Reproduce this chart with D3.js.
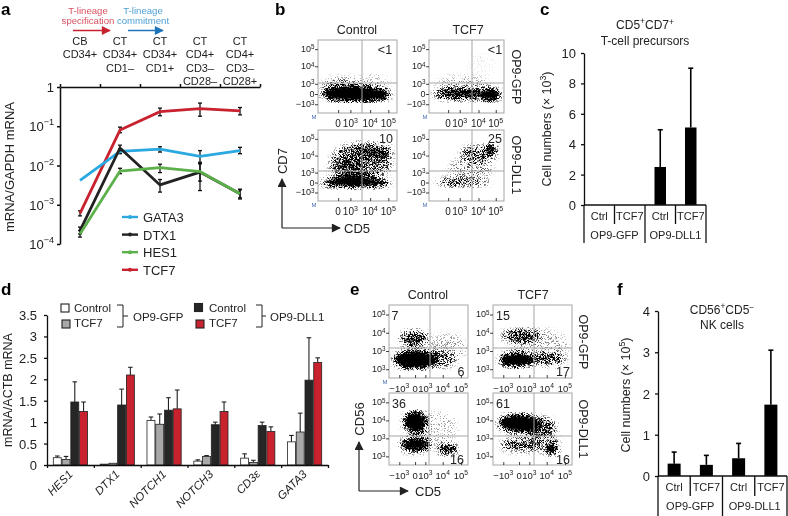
<!DOCTYPE html>
<html><head><meta charset="utf-8">
<script src="https://cdn.jsdelivr.net/npm/d3@7"></script>
<style>
html,body{margin:0;padding:0;background:#fff}
svg{display:block}
text{font-family:"Liberation Sans",Arial,sans-serif;fill:#222}
</style></head><body>
<svg id="c" width="788" height="516" viewBox="0 0 788 516"></svg>
<script>
// ---------- panel a ----------
const stages=[["CB","CD34+"],["CT","CD34+","CD1–"],["CT","CD34+","CD1+"],["CT","CD4+","CD3–","CD28–"],["CT","CD4+","CD3–","CD28+"]];
const seriesA=["TCF7","GATA3","DTX1","HES1"];
const tcf7=[6e-4,0.08,0.235,0.28,0.245];
const tcf7Lo=[5.2e-4,0.068,0.185,0.18,0.195];
const tcf7Hi=[7e-4,0.095,0.29,0.39,0.3];
const gata3=[4.2e-3,0.023,0.026,0.017,0.024];
const gata3Lo=[4.2e-3,0.02,0.022,0.012,0.02];
const gata3Hi=[4.2e-3,0.026,0.03,0.024,0.029];
const dtx1=[2.2e-4,0.028,0.0032,0.0068,0.0019];
const dtx1Lo=[1.8e-4,0.024,0.0021,0.0023,0.0015];
const dtx1Hi=[2.7e-4,0.033,0.0044,0.011,0.0024];
const hes1=[1.8e-4,0.0072,0.0088,0.007,0.0019];
const hes1Lo=[1.5e-4,0.0062,0.0066,0.004,0.0014];
const hes1Hi=[2.2e-4,0.0085,0.0108,0.0115,0.0025];
const legendA=["GATA3","DTX1","HES1","TCF7"];
// ---------- bars c, f ----------
const cellCats=["Ctrl","TCF7","Ctrl","TCF7"];
const cellGroups=["OP9-GFP","OP9-DLL1"];
const cValues=[0,0,2.5,5.1];
const cErrTop=[0,0,4.95,9.0];
const fValues=[0.3,0.27,0.43,1.73];
const fErrTop=[0.58,0.5,0.79,3.05];
// ---------- panel d ----------
const genes=["HES1","DTX1","NOTCH1","NOTCH3","CD3ε","GATA3"];
const dConds=["gfpControl","gfpTCF7","dllControl","dllTCF7"];
const gfpControl=[.17,.02,1.04,.09,.16,.54];
const gfpControlTop=[.21,.02,1.12,.12,.26,.69];
const gfpTCF7=[.13,.04,.95,.2,.06,.77];
const gfpTCF7Top=[.2,.04,1.19,.22,.11,1.21];
const dllControl=[1.47,1.4,1.28,.94,.92,1.98];
const dllControlTop=[1.94,1.77,1.57,1.0,1.0,2.97];
const dllTCF7=[1.25,2.1,1.31,1.25,.78,2.39];
const dllTCF7Top=[1.47,2.28,1.75,1.47,.89,2.5];
// ---------- flow panels: cell clouds [cx,cy,rx,ry,density], in % of the plot frame ----------
const bTicksX=[["0",.255],["10^3",.41],["10^4",.66],["10^5",.89]];
const bTicksY=[["10^5",.125],["10^4",.36],["10^3",.60],["0",.74],["−10^3",.88]];
const eTicksX=[["−10^3",.13],["0",.33],["10^3",.46],["10^4",.68],["10^5",.91]];
const eTicksY=[["10^5",.13],["10^4",.38],["10^3",.63],["10^3",.88]];
const bCtrlGfp=[[48,74,44,10,1],[30,63,24,12,.3],[70,60,20,14,.1]];
const bTcfGfp=[[50,74,44,7,.8],[82,75,13,8,1],[45,62,36,12,.16],[70,35,18,18,.03]];
const bCtrlDll=[[48,74,44,6,1],[35,73,22,7,1],[55,44,38,26,.42],[72,30,22,10,.5],[38,52,24,14,.3]];
const bTcfDll=[[45,74,38,4,.5],[30,73,12,3,.9],[83,27,7,6,1],[66,34,24,12,.42],[55,55,30,15,.2]];
const eCtrlGfp=[[33,75,27,12,1],[32,46,18,11,.6],[60,75,26,11,.35],[75,58,24,20,.14]];
const eTcfGfp=[[30,75,22,9,1],[36,42,24,9,.55],[70,74,22,8,.5],[60,55,36,22,.15]];
const eCtrlDll=[[33,40,14,14,1],[33,72,19,9,.92],[74,78,12,7,.78],[60,48,26,22,.12],[38,56,12,10,.2]];
const eTcfDll=[[33,42,26,12,1],[58,47,22,13,.5],[36,72,26,9,.5],[74,78,8,7,1],[66,66,20,14,.25]];

const svg=d3.select("#c");
const defs=svg.append("defs");
const flt=defs.append("filter").attr("id","speckle").attr("x","-5%").attr("y","-5%").attr("width","110%").attr("height","110%").attr("color-interpolation-filters","sRGB");
flt.append("feGaussianBlur").attr("in","SourceAlpha").attr("stdDeviation",3).attr("result","soft");
flt.append("feTurbulence").attr("type","fractalNoise").attr("baseFrequency",1.7).attr("numOctaves",2).attr("seed",7).attr("result","n");
flt.append("feColorMatrix").attr("in","n").attr("type","matrix").attr("values","0 0 0 0 0  0 0 0 0 0  0 0 0 0 0  3.6 0 0 0 -1.3").attr("result","na");
flt.append("feComposite").attr("in","soft").attr("in2","na").attr("operator","arithmetic").attr("k1",0).attr("k2",1.85).attr("k3",1).attr("k4",-1).attr("result","m");
const ct=flt.append("feComponentTransfer").attr("in","m");
ct.append("feFuncA").attr("type","linear").attr("slope",1.7).attr("intercept",0);
const soft=defs.append("filter").attr("id","soft").attr("x","-10%").attr("y","-10%").attr("width","120%").attr("height","120%");
soft.append("feGaussianBlur").attr("stdDeviation",0.35);
["red","blue","dark"].forEach((n,i)=>{
  defs.append("marker").attr("id","ar"+n).attr("viewBox","0 0 10 10").attr("refX",9).attr("refY",5)
    .attr("markerWidth",12).attr("markerHeight",9).attr("markerUnits","userSpaceOnUse").attr("orient","auto")
    .append("path").attr("d","M0,0L10,5L0,10Z").attr("fill",["#c8202f","#1f75bb","#222"][i]);
});
const root=svg.append("g").attr("filter","url(#soft)");

function label(g,x,y,str,o={}){
  const t=g.append("text").attr("x",x).attr("y",y).attr("font-size",o.size||12)
    .attr("text-anchor",o.anchor||"middle").attr("dominant-baseline","central");
  if(o.bold)t.attr("font-weight","bold");
  if(o.italic)t.attr("font-style","italic");
  if(o.fill)t.style("fill",o.fill);
  if(o.rotate!=null)t.attr("transform",`rotate(${o.rotate},${x},${y})`);
  const parts=str.split(/(\^(?:\+|−?\d+|−))/).filter(s=>s.length);
  let lift=false;
  parts.forEach(p=>{
    if(p[0]==="^"){
      t.append("tspan").attr("dy","-0.42em").attr("font-size","70%").text(p.slice(1));
      lift=true;
    }else{
      const s=t.append("tspan").text(p);
      if(lift){s.attr("dy","0.3em");lift=false;}
    }
  });
  return t;
}
function styleAxis(g,w=1.3){
  g.selectAll(".domain").attr("stroke","#111").attr("stroke-width",w);
  g.selectAll(".tick line").attr("stroke","#111").attr("stroke-width",w);
  g.selectAll(".tick text").remove();
}
[["a",1,9],["b",275,9],["c",540,9],["d",1,289],["e",350,289],["f",617,289]].forEach(d=>
  label(root,d[1],d[2],d[0],{size:17,bold:true,anchor:"start",fill:"#000"}));

// ===== panel a =====
(function(){
  const g=root.append("g");
  const edge=d3.scaleLinear().domain([0,5]).range([60,260]);
  const xA=d3.scalePoint().domain(d3.range(stages.length)).range([80,240]);
  const yA=d3.scaleLog().domain([1e-4,1]).range([244,87]);
  const ax=g.append("g").attr("transform","translate(0,87)").call(d3.axisTop(edge).ticks(5).tickSize(3).tickSizeOuter(0));
  styleAxis(ax,1.5);
  const ay=g.append("g").attr("transform","translate(60,0)").call(d3.axisLeft(yA).tickValues([1,.1,.01,.001,.0001]).tickSize(3).tickSizeOuter(0));
  styleAxis(ay,1.5);
  [["1",1],["10^−1",.1],["10^−2",.01],["10^−3",.001],["10^−4",.0001]].forEach(d=>
    label(g,54,yA(d[1]),d[0],{size:13,anchor:"end"}));
  label(g,9,167,"mRNA/GAPDH mRNA",{size:13,rotate:-90});
  stages.forEach((s,i)=>s.forEach((t,j)=>label(g,xA(i),41+j*13.4,t,{size:11})));
  label(g,88,10,"T-lineage",{size:9.6,fill:"#d8505f"});
  label(g,88,20,"specification",{size:9.6,fill:"#d8505f"});
  label(g,143,10,"T-lineage",{size:9.6,fill:"#4f9fd6"});
  label(g,143,20,"commitment",{size:9.6,fill:"#4f9fd6"});
  g.append("line").attr("x1",73).attr("x2",110).attr("y1",30.5).attr("y2",30.5).attr("stroke","#c8202f").attr("stroke-width",1.5).attr("marker-end","url(#arred)");
  g.append("line").attr("x1",128).attr("x2",163).attr("y1",30.5).attr("y2",30.5).attr("stroke","#1f75bb").attr("stroke-width",1.5).attr("marker-end","url(#arblue)");
  const col={TCF7:"#c8202f",GATA3:"#2aa8e0",DTX1:"#222",HES1:"#5cb04a"};
  const vals={TCF7:[tcf7,tcf7Lo,tcf7Hi],GATA3:[gata3,gata3Lo,gata3Hi],DTX1:[dtx1,dtx1Lo,dtx1Hi],HES1:[hes1,hes1Lo,hes1Hi]};
  const line=d3.line().x((d,i)=>xA(i)).y(d=>yA(d));
  seriesA.forEach(n=>{
    const [v,lo,hi]=vals[n];
    v.forEach((d,i)=>{
      if(lo[i]===hi[i])return;
      const e=g.append("g").attr("stroke","#111").attr("stroke-width",1.3);
      e.append("line").attr("x1",xA(i)).attr("x2",xA(i)).attr("y1",yA(lo[i])).attr("y2",yA(hi[i]));
      [lo[i],hi[i]].forEach(w=>e.append("line").attr("x1",xA(i)-2).attr("x2",xA(i)+2).attr("y1",yA(w)).attr("y2",yA(w)));
    });
    g.append("path").attr("d",line(v)).attr("fill","none").attr("stroke",col[n]).attr("stroke-width",2.8);
  });
  legendA.forEach((n,i)=>{
    const y=217+i*17.6;
    g.append("line").attr("x1",122).attr("x2",138).attr("y1",y).attr("y2",y).attr("stroke",col[n]).attr("stroke-width",2.4);
    g.append("circle").attr("cx",130).attr("cy",y).attr("r",2).attr("fill",col[n]);
    label(g,143,y,n,{size:13,anchor:"start"});
  });
})();

// ===== flow plots =====
function flow(f){
  const g=root.append("g");
  const id="clip"+f.x0+"_"+f.y0;
  const x=d3.scaleLinear().domain([0,100]).range([f.x0,f.x1]);
  const y=d3.scaleLinear().domain([0,100]).range([f.y0,f.y1]);
  defs.append("clipPath").attr("id",id).append("rect").attr("x",f.x0).attr("y",f.y0).attr("width",f.x1-f.x0).attr("height",f.y1-f.y0);
  const c=g.append("g").attr("clip-path",`url(#${id})`).append("g").attr("filter","url(#speckle)");
  c.selectAll("ellipse").data(f.clouds).join("ellipse")
    .attr("cx",d=>x(d[0])).attr("cy",d=>y(d[1]))
    .attr("rx",d=>x(d[2])-x(0)).attr("ry",d=>y(d[3])-y(0))
    .attr("fill","#000").attr("opacity",d=>d[4]);
  g.append("rect").attr("x",f.x0).attr("y",f.y0).attr("width",f.x1-f.x0).attr("height",f.y1-f.y0)
    .attr("fill","none").attr("stroke","#a5a5a5").attr("stroke-width",1);
  g.append("line").attr("x1",f.gx).attr("x2",f.gx).attr("y1",f.y0).attr("y2",f.y1).attr("stroke","#a5a5a5");
  g.append("line").attr("x1",f.x0).attr("x2",f.x1).attr("y1",f.gy).attr("y2",f.gy).attr("stroke","#a5a5a5");
  const fx=d3.scaleLinear().domain([0,1]).range([f.x0,f.x1]);
  const fy=d3.scaleLinear().domain([0,1]).range([f.y0,f.y1]);
  const ta=g.append("g").attr("transform",`translate(0,${f.y1})`).call(d3.axisBottom(fx).tickValues(f.tx.map(d=>d[1])).tickSize(-3).tickSizeOuter(0));
  const tb=g.append("g").attr("transform",`translate(${f.x0},0)`).call(d3.axisLeft(fy).tickValues(f.ty.map(d=>d[1])).tickSize(3).tickSizeOuter(0));
  [ta,tb].forEach(s=>{styleAxis(s,.8);s.select(".domain").remove();});
  f.tx.forEach(d=>label(g,fx(d[1]),f.y1+9.5,d[0],{size:f.ts}));
  f.ty.forEach(d=>label(g,f.x0-3.5,fy(d[1]),d[0],{size:Math.min(f.ts,9),anchor:"end"}));
  if(f.m)label(g,f.x0-4,f.y1+4,"M",{size:6,fill:"#4a6fb0"});
  label(g,f.lx,f.ly,f.num,{size:12.5,anchor:f.la||"middle"});
}
flow({x0:318,x1:397,y0:40,y1:113,gx:362,gy:83,clouds:bCtrlGfp,tx:bTicksX,ty:bTicksY,num:"<1",lx:385,ly:50,m:1,ts:10});
flow({x0:429,x1:504,y0:40,y1:113,gx:472,gy:83,clouds:bTcfGfp,tx:bTicksX,ty:bTicksY,num:"<1",lx:495,ly:50,m:1,ts:10});
flow({x0:318,x1:397,y0:130,y1:201,gx:362,gy:171,clouds:bCtrlDll,tx:bTicksX,ty:bTicksY,num:"10",lx:386,ly:139,m:1,ts:10});
flow({x0:429,x1:504,y0:130,y1:201,gx:472,gy:171,clouds:bTcfDll,tx:bTicksX,ty:bTicksY,num:"25",lx:495,ly:139,m:1,ts:10});
flow({x0:389,x1:468,y0:305,y1:378,gx:430,gy:348,clouds:eCtrlGfp,tx:eTicksX,ty:eTicksY,num:"7",lx:395,ly:316,m:1,ts:9.5});
flow({x0:493,x1:572,y0:305,y1:378,gx:534,gy:348,clouds:eTcfGfp,tx:eTicksX,ty:eTicksY,num:"15",lx:503,ly:316,ts:9.5});
flow({x0:389,x1:468,y0:393,y1:465,gx:429,gy:436,clouds:eCtrlDll,tx:eTicksX,ty:eTicksY,num:"36",lx:399,ly:404,ts:9.5});
flow({x0:493,x1:572,y0:393,y1:465,gx:534,gy:436,clouds:eTcfDll,tx:eTicksX,ty:eTicksY,num:"61",lx:503,ly:404,ts:9.5});
(function(){
  const g=root.append("g");
  label(g,357,30,"Control",{size:12.5});label(g,468,30,"TCF7",{size:12.5});
  label(g,516,77,"OP9-GFP",{size:12.5,rotate:90});label(g,516,165,"OP9-DLL1",{size:12.5,rotate:90});
  label(g,428,295,"Control",{size:12.5});label(g,533,295,"TCF7",{size:12.5});
  label(g,583,342,"OP9-GFP",{size:12.5,rotate:90});label(g,583,429,"OP9-DLL1",{size:12.5,rotate:90});
  label(g,461,372,"6",{size:12.5});label(g,563,372,"17",{size:12.5});
  label(g,457,460,"16",{size:12.5});label(g,563,460,"16",{size:12.5});
  const arrows=[[282,228,282,179],[282,228,340,228],[359,491,359,442],[359,491,408,491]];
  arrows.forEach(a=>g.append("line").attr("x1",a[0]).attr("y1",a[1]).attr("x2",a[2]).attr("y2",a[3]).attr("stroke","#222").attr("stroke-width",1.2).attr("marker-end","url(#ardark)"));
  label(g,344,228,"CD5",{size:13,anchor:"start"});
  label(g,282,161,"CD7",{size:13,rotate:-90});
  label(g,415,491,"CD5",{size:13,anchor:"start"});
  label(g,359,419,"CD56",{size:13,rotate:-90});
})();

// ===== panels c, f =====
function cellBars(o){
  const g=root.append("g");
  const x=d3.scaleBand().domain(d3.range(4)).range([o.x0,o.x1]);
  const y=d3.scaleLinear().domain([0,o.max]).range([o.y0,o.y1]);
  const ay=g.append("g").attr("transform",`translate(${o.x0},0)`).call(d3.axisLeft(y).tickValues(o.ticks).tickSize(3).tickSizeOuter(0));
  styleAxis(ay,1.3);
  o.ticks.forEach(t=>label(g,o.x0-8,y(t),String(t),{size:13,anchor:"end"}));
  const w=o.barW;
  o.vals.forEach((v,i)=>{
    const cx=x(i)+x.bandwidth()/2;
    if(o.err[i]>v){
      g.append("line").attr("x1",cx).attr("x2",cx).attr("y1",y(o.err[i])).attr("y2",y(v)).attr("stroke","#000").attr("stroke-width",1.6);
      g.append("line").attr("x1",cx-2.5).attr("x2",cx+2.5).attr("y1",y(o.err[i])).attr("y2",y(o.err[i])).attr("stroke","#000").attr("stroke-width",1.6);
    }
    g.append("rect").attr("x",cx-w/2).attr("width",w).attr("y",y(v)).attr("height",y(0)-y(v)).attr("fill","#000");
    label(g,cx,o.catY,cellCats[i],{size:11});
  });
  g.append("line").attr("x1",o.x0).attr("x2",o.x1).attr("y1",y(0)).attr("y2",y(0)).attr("stroke","#111").attr("stroke-width",1.3);
  d3.range(5).forEach(i=>{
    const xx=o.x0+i*x.bandwidth();
    g.append("line").attr("x1",xx).attr("x2",xx).attr("y1",y(0)).attr("y2",i%2?o.sep1:o.sep2).attr("stroke","#111").attr("stroke-width",1.3);
  });
  cellGroups.forEach((n,i)=>label(g,o.x0+(i*2+1)*x.bandwidth(),o.grpY,n,{size:11}));
  label(g,o.tx,o.t1y,o.t1,{size:12});label(g,o.tx,o.t2y,o.t2,{size:12});
  label(g,o.ylx,o.yly,o.ylab,{size:12.5,rotate:-90});
}
cellBars({x0:584,x1:706,y0:205,y1:53,max:10,ticks:[0,2,4,6,8,10],vals:cValues,err:cErrTop,barW:11.5,catY:216,grpY:235,sep1:224,sep2:243,
  tx:645,t1:"CD5^+CD7^+",t1y:25,t2:"T-cell precursors",t2y:41,ylab:"Cell numbers (× 10^3)",ylx:547,yly:129});
cellBars({x0:658,x1:787,y0:476,y1:311,max:4,ticks:[0,1,2,3,4],vals:fValues,err:fErrTop,barW:13,catY:487,grpY:506,sep1:496,sep2:516,
  tx:722,t1:"CD56^+CD5^−",t1y:310,t2:"NK cells",t2y:325,ylab:"Cell numbers (× 10^5)",ylx:626,yly:395});

// ===== panel d =====
(function(){
  const g=root.append("g");
  const edge=d3.scaleLinear().domain([0,6]).range([47,328]);
  const x0=d3.scaleBand().domain(genes).range([47,328]);
  const x1=d3.scaleBand().domain(dConds).range([0,35]);
  const y=d3.scaleLinear().domain([0,3.5]).range([465,315]);
  const fill={gfpControl:"#fff",gfpTCF7:"#a8a8a8",dllControl:"#262626",dllTCF7:"#c8202f"};
  const vals={gfpControl,gfpTCF7,dllControl,dllTCF7};
  const tops={gfpControl:gfpControlTop,gfpTCF7:gfpTCF7Top,dllControl:dllControlTop,dllTCF7:dllTCF7Top};
  const ay=g.append("g").attr("transform","translate(47,0)").call(d3.axisLeft(y).tickValues(d3.range(0,3.6,.5)).tickSize(3).tickSizeOuter(0));
  styleAxis(ay,1.3);
  d3.range(0,3.6,.5).forEach(t=>label(g,37,y(t),String(t),{size:13,anchor:"end"}));
  genes.forEach((n,i)=>{
    const gx=x0(n)+x0.bandwidth()/2-17.5;
    dConds.forEach(c=>{
      const bx=gx+x1(c),v=vals[c][i],top=tops[c][i],cx=bx+x1.bandwidth()/2;
      if(top>v){
        g.append("line").attr("x1",cx).attr("x2",cx).attr("y1",y(top)).attr("y2",y(v)).attr("stroke","#222").attr("stroke-width",1.1);
        g.append("line").attr("x1",cx-2.3).attr("x2",cx+2.3).attr("y1",y(top)).attr("y2",y(top)).attr("stroke","#222").attr("stroke-width",1.1);
      }
      g.append("rect").attr("x",bx+.4).attr("width",x1.bandwidth()-.8).attr("y",y(v)).attr("height",y(0)-y(v))
        .attr("fill",fill[c]).attr("stroke","#222").attr("stroke-width",.8);
    });
    const ex=x0(n)+x0.bandwidth()/2+3;
    label(g,ex,475,n,{size:11.5,italic:true,anchor:"end",rotate:-45}).attr("dominant-baseline","auto");
  });
  const ax=g.append("g").attr("transform","translate(0,465)").call(d3.axisBottom(edge).ticks(6).tickSize(3).tickSizeOuter(0));
  styleAxis(ax,1.3);
  label(g,8,390,"mRNA/ACTB mRNA",{size:12.5,rotate:-90});
  const sw=[[61,304,"gfpControl"],[62,320,"gfpTCF7"],[194.5,303.5,"dllControl"],[196,320,"dllTCF7"]];
  sw.forEach(s=>g.append("rect").attr("x",s[0]).attr("y",s[1]).attr("width",8).attr("height",8).attr("fill",fill[s[2]]).attr("stroke","#222").attr("stroke-width",1.1));
  label(g,74,308,"Control",{size:11.5,anchor:"start"});label(g,74,323,"TCF7",{size:11.5,anchor:"start"});
  label(g,209,308,"Control",{size:11.5,anchor:"start"});label(g,209,323,"TCF7",{size:11.5,anchor:"start"});
  label(g,133,317,"OP9-GFP",{size:11.5,anchor:"start"});label(g,270,317,"OP9-DLL1",{size:11.5,anchor:"start"});
  [[117,123,128],[256,262,266]].forEach(b=>{
    g.append("path").attr("d",`M${b[0]},305H${b[1]}V327H${b[0]}M${b[1]},316H${b[2]}`).attr("fill","none").attr("stroke","#222").attr("stroke-width",1);
  });
})();
</script></body></html>
